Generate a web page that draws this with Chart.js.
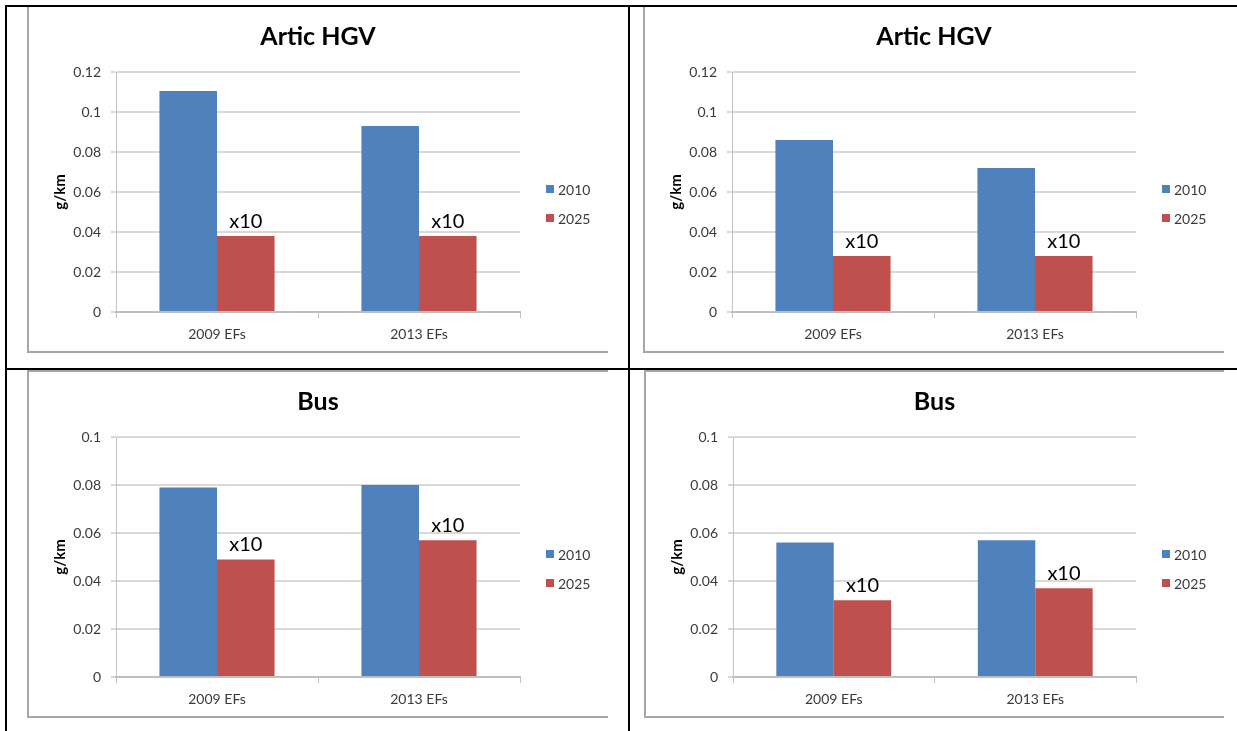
<!DOCTYPE html>
<html>
<head>
<meta charset="utf-8">
<title>Artic HGV / Bus g/km</title>
<script src="https://cdn.jsdelivr.net/npm/chart.js@4.4.1/dist/chart.umd.min.js"></script>
<style>
  body { margin: 0; background: #fff; width: 1237px; height: 731px; overflow: hidden; position: relative; }
  .rule { position: absolute; background: #000; z-index: 2; }
  .frame { position: absolute; box-sizing: border-box; border: 2px solid #a6a6a6; border-right: none; }
  canvas { position: absolute; z-index: 1; }
</style>
</head>
<body>

<!-- table lines -->
<div class="rule" style="left:5px; top:5px; width:1232px; height:2px"></div>
<div class="rule" style="left:5px; top:5px; width:2px; height:726px"></div>
<div class="rule" style="left:628px; top:5px; width:2px; height:726px"></div>
<div class="rule" style="left:5px; top:368px; width:1232px; height:2px"></div>

<!-- chart frames -->
<div class="frame" style="left:27px; top:5px; width:581px; height:348px"></div>
<div class="frame" style="left:643px; top:5px; width:581px; height:348px"></div>
<div class="frame" style="left:27px; top:370px; width:581px; height:348px"></div>
<div class="frame" style="left:644px; top:370px; width:580px; height:348px"></div>

<canvas id="hgv09" width="578" height="344" style="left:29px; top:7px"></canvas>
<canvas id="hgv13" width="578" height="344" style="left:645px; top:7px"></canvas>
<canvas id="bus09" width="578" height="344" style="left:29px; top:372px"></canvas>
<canvas id="bus13" width="577" height="344" style="left:646px; top:372px"></canvas>

<script>
var categories = ['2009 EFs', '2013 EFs'];
var seriesNames = ['2010', '2025'];
var barNotes = ['x10', 'x10'];

// artic HGV, left and right panels
var hgvLeft2010 = [0.1105, 0.093];
var hgvLeft2025 = [0.038, 0.038];
var hgvRight2010 = [0.086, 0.072];
var hgvRight2025 = [0.028, 0.028];

// bus, left and right panels
var busLeft2010 = [0.079, 0.080];
var busLeft2025 = [0.049, 0.057];
var busRight2010 = [0.056, 0.057];
var busRight2025 = [0.032, 0.037];

var hgvAxisMax = 0.12;
var busAxisMax = 0.1;
var axisStep = 0.02;

Chart.defaults.font.family = 'Lato, "Open Sans", sans-serif';
Chart.defaults.color = '#3a3a3a';

// legend drawn at the right of the plot, like the office chart
var sideLegend = {
  id: 'sideLegend',
  afterDraw: function (chart) {
    var a = chart.chartArea, ctx = chart.ctx;
    var mid = (a.top + a.bottom) / 2;
    ctx.save();
    ctx.font = '14px Lato';
    ctx.textBaseline = 'middle';
    chart.data.datasets.forEach(function (ds, i) {
      var y = mid - 3 + i * 29;
      ctx.fillStyle = ds.backgroundColor;
      ctx.fillRect(a.right + 26, y - 4, 8, 8);
      ctx.fillStyle = '#3a3a3a';
      ctx.fillText(ds.label, a.right + 38, y + 1);
    });
    ctx.restore();
  }
};

// "x10" notes above the 2025 bars
var noteLabels = {
  id: 'noteLabels',
  afterDatasetsDraw: function (chart, args, opts) {
    var meta = chart.getDatasetMeta(1), ctx = chart.ctx;
    ctx.save();
    ctx.font = '20px Lato';
    ctx.fillStyle = '#000';
    ctx.textAlign = 'center';
    ctx.textBaseline = 'alphabetic';
    (opts.text || []).forEach(function (t, i) {
      var bar = meta.data[i];
      if (bar) ctx.fillText(t, bar.x, bar.y - 8);
    });
    ctx.restore();
  }
};

function makeChart(id, title, yMax, s2010, s2025) {
  return new Chart(document.getElementById(id), {
    type: 'bar',
    data: {
      labels: categories,
      datasets: [{
        label: seriesNames[0],
        data: s2010,
        backgroundColor: '#4f81bd'
      }, {
        label: seriesNames[1],
        data: s2025,
        backgroundColor: '#c0504d'
      }]
    },
    options: {
      responsive: false,
      animation: false,
      devicePixelRatio: 1,
      categoryPercentage: 0.57,
      barPercentage: 1,
      plugins: {
        legend: { display: false },
        tooltip: { enabled: false },
        title: {
          display: true,
          text: title,
          color: '#000',
          font: { size: 25, weight: 'bold' },
          padding: { top: 15, bottom: 20 }
        },
        noteLabels: { text: barNotes }
      },
      scales: {
        x: {
          ticks: { padding: 8, font: { size: 14 } },
          grid: { drawOnChartArea: false, offset: true, tickLength: 6, color: '#bfbfbf' },
          border: { color: '#bfbfbf', width: 2 },
          afterFit: function (s) { s.height = 39; }
        },
        y: {
          min: 0,
          max: yMax,
          ticks: {
            stepSize: axisStep,
            padding: 10,
            font: { size: 14 },
            callback: function (v) { return String(+v.toFixed(3)); }
          },
          grid: { color: '#d9d9d9', lineWidth: 2, tickLength: 5 },
          border: { color: '#c4c4c4', width: 1 },
          title: {
            display: true,
            text: 'g/km',
            color: '#000',
            font: { size: 15, weight: 'bold' },
            padding: { top: 22, bottom: 0 }
          },
          afterFit: function (s) { s.width = 87; }
        },
        // empty right-hand axis that keeps room for the legend
        legendRoom: {
          type: 'linear',
          position: 'right',
          grid: { display: false },
          ticks: { display: false },
          border: { display: false },
          afterFit: function (s) { s.width = 87; }
        }
      }
    },
    plugins: [sideLegend, noteLabels]
  });
}

makeChart('hgv09', 'Artic HGV', hgvAxisMax, hgvLeft2010, hgvLeft2025);
makeChart('hgv13', 'Artic HGV', hgvAxisMax, hgvRight2010, hgvRight2025);
makeChart('bus09', 'Bus', busAxisMax, busLeft2010, busLeft2025);
makeChart('bus13', 'Bus', busAxisMax, busRight2010, busRight2025);
</script>
</body>
</html>
